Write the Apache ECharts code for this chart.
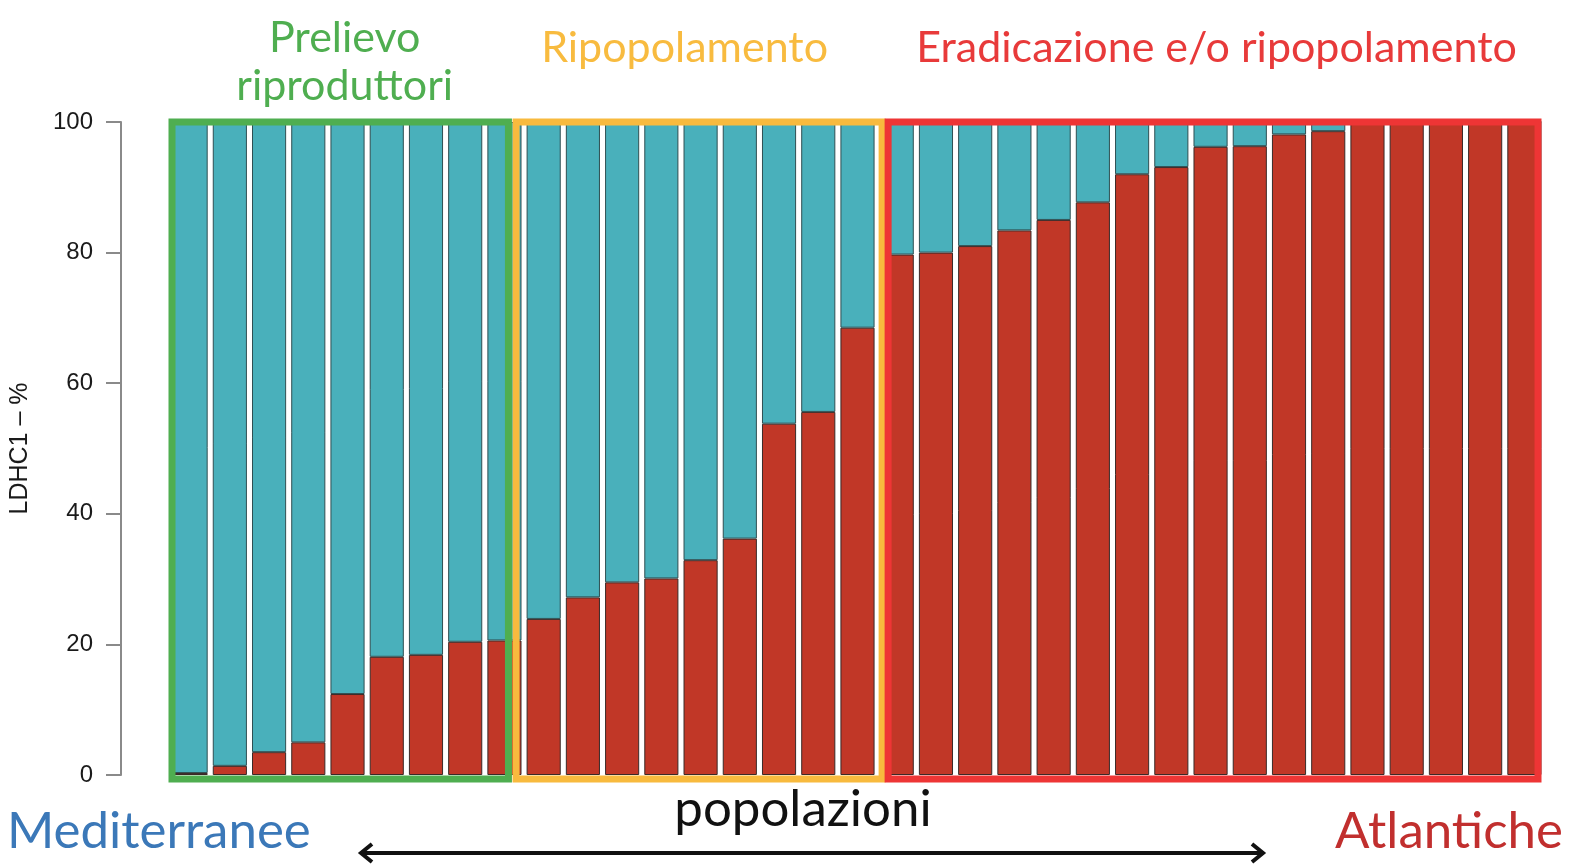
<!DOCTYPE html>
<html>
<head>
<meta charset="utf-8">
<script src="https://cdn.jsdelivr.net/npm/echarts@6/dist/echarts.min.js"></script>
<style>
html,body{margin:0;padding:0;background:#ffffff;}
#chart{width:1572px;height:865px;}
</style>
</head>
<body>
<div id="chart"></div>
<script>
// ---- data ----
var categories = ['P1','P2','P3','P4','P5','P6','P7','P8','P9','P10','P11','P12','P13','P14','P15','P16','P17','P18',
  'P19','P20','P21','P22','P23','P24','P25','P26','P27','P28','P29','P30','P31','P32','P33','P34','P35'];
// LDHC1 (Atlantic allele) percentage, red segment
var atlanticPct = [0.3, 1.4, 3.5, 5.0, 12.4, 18.1, 18.4, 20.4, 20.6,
  23.9, 27.2, 29.5, 30.1, 32.9, 36.2, 53.8, 55.6, 68.5,
  79.7, 80.0, 81.0, 83.4, 85.0, 87.7, 92.0, 93.1, 96.2, 96.3, 98.1, 98.6, 100, 100, 100, 100, 100];
var mediterraneanPct = atlanticPct.map(function(v){ return +(100 - v).toFixed(1); });
var yTicks = [0, 20, 40, 60, 80, 100];
// groups: [first index, last index]
var groupGreen = [0, 8];
var groupYellow = [9, 17];
var groupRed = [18, 34];

var chart = echarts.init(document.getElementById('chart'));
var option = {
  animation: false,
  backgroundColor: '#ffffff',
  grid: { left: 170, right: 28, top: 122, bottom: 90, containLabel: false },
  xAxis: {
    type: 'category', data: categories,
    axisLine: { show: false }, axisTick: { show: false }, axisLabel: { show: false }, splitLine: { show: false }
  },
  yAxis: {
    type: 'value', min: yTicks[0], max: yTicks[yTicks.length - 1], interval: 20,
    offset: 50,
    name: 'LDHC1 \u2013 %', nameLocation: 'middle', nameGap: 88, nameRotate: 90,
    nameTextStyle: { fontFamily: 'Liberation Sans', fontSize: 25, color: '#1a1a1a' },
    axisLine: { show: true, lineStyle: { color: '#8a8a8a', width: 2 } },
    axisTick: { show: true, length: 15, lineStyle: { color: '#8a8a8a', width: 2 } },
    axisLabel: { margin: 28, fontFamily: 'Liberation Sans', fontSize: 24, color: '#1a1a1a' },
    splitLine: { show: false }
  },
  series: [
    {
      name: 'Atlantiche', type: 'bar', stack: 'pct', data: atlanticPct,
      barCategoryGap: '13%',
      itemStyle: { color: '#c13727', borderColor: '#3a2a28', borderWidth: 1 }
    },
    {
      name: 'Mediterranee', type: 'bar', stack: 'pct', data: mediterraneanPct,
      barCategoryGap: '13%',
      itemStyle: { color: '#49b0bb', borderColor: '#2f4f52', borderWidth: 1 }
    }
  ]
};
chart.setOption(option);

function cx(i){ return chart.convertToPixel({xAxisIndex:0}, categories[i]); }
var pitch = cx(1) - cx(0);
function bandL(i){ return cx(i) - pitch/2; }
function bandR(i){ return cx(i) + pitch/2; }
var yTop = chart.convertToPixel({yAxisIndex:0}, 100);
var yBot = chart.convertToPixel({yAxisIndex:0}, 0) + 4;

function box(x1, x2, color){
  return { type: 'rect', z: 100, shape: { x: x1, y: yTop, width: x2 - x1, height: yBot - yTop },
    style: { fill: 'none', stroke: color, lineWidth: 7 } };
}
var font = 'Lato';
var graphics = [
  box(bandL(groupGreen[0]) + 1, cx(groupGreen[1]) + 4, '#4fae50'),
  box(bandR(groupYellow[0] - 1) - 8, bandR(groupYellow[1]) + 5, '#f8ba3e'),
  box(bandR(groupRed[0] - 1) + 11, bandR(groupRed[1]) - 6, '#ee3535'),
  { type: 'text', z: 101, x: (bandL(groupGreen[0]) + cx(groupGreen[1])) / 2 + 7, y: 62,
    style: { text: 'Prelievo\nriproduttori', fill: '#4fae50', font: '43px ' + font, align: 'center', verticalAlign: 'middle', lineHeight: 48 } },
  { type: 'text', z: 101, x: (bandR(groupYellow[0] - 1) + bandR(groupYellow[1])) / 2 - 16, y: 48,
    style: { text: 'Ripopolamento', fill: '#f8bb3f', font: '43px ' + font, align: 'center', verticalAlign: 'middle' } },
  { type: 'text', z: 101, x: (bandR(groupRed[0] - 1) + bandR(groupRed[1])) / 2 + 6, y: 48,
    style: { text: 'Eradicazione e/o ripopolamento', fill: '#e83a3a', font: '43px ' + font, align: 'center', verticalAlign: 'middle' } },
  { type: 'text', z: 101, x: 7, y: 832,
    style: { text: 'Mediterranee', fill: '#3b78b8', font: '51px ' + font, align: 'left', verticalAlign: 'middle' } },
  { type: 'text', z: 101, x: 1563, y: 832,
    style: { text: 'Atlantiche', fill: '#c12f2e', font: '51px ' + font, align: 'right', verticalAlign: 'middle' } },
  { type: 'text', z: 101, x: 803, y: 810,
    style: { text: 'popolazioni', fill: '#111', font: '51px ' + font, align: 'center', verticalAlign: 'middle' } },
  { type: 'line', z: 101, shape: { x1: 362, y1: 853, x2: 1262, y2: 853 }, style: { stroke: '#111', lineWidth: 4 } },
  { type: 'polyline', z: 101, shape: { points: [[372, 844], [361, 853], [372, 862]] }, style: { stroke: '#111', lineWidth: 4, fill: 'none' } },
  { type: 'polyline', z: 101, shape: { points: [[1252, 844], [1263, 853], [1252, 862]] }, style: { stroke: '#111', lineWidth: 4, fill: 'none' } }
];
chart.setOption({ graphic: graphics });
</script>
</body>
</html>
